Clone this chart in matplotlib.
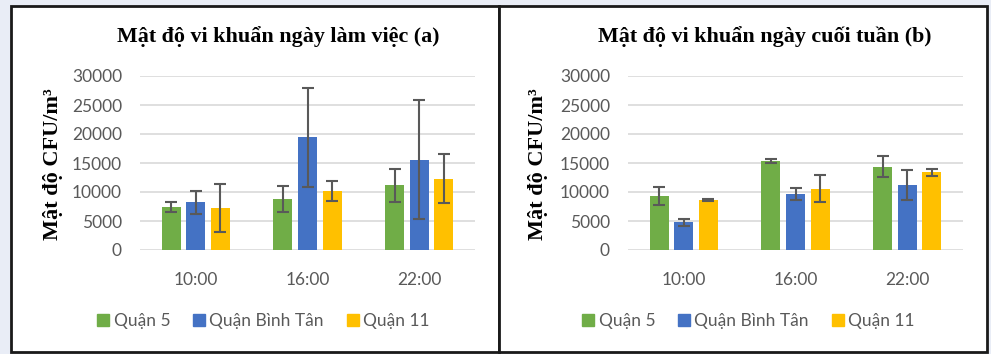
import numpy as np
import matplotlib
matplotlib.use('Agg')
import matplotlib.pyplot as plt
from matplotlib.patches import Rectangle
from matplotlib.lines import Line2D

# data
times = ['10:00', '16:00', '22:00']
districts = ['Quận 5', 'Quận Bình Tân', 'Quận 11']

weekday_q5 = [7400, 8800, 11150]
weekday_bt = [8200, 19400, 15600]
weekday_q11 = [7200, 10200, 12300]
weekday_q5_err = [800, 2200, 2850]
weekday_bt_err = [2000, 8500, 10300]
weekday_q11_err = [4150, 1700, 4200]

weekend_q5 = [9350, 15350, 14350]
weekend_bt = [4750, 9650, 11200]
weekend_q11 = [8650, 10600, 13400]
weekend_q5_err = [1550, 400, 1800]
weekend_bt_err = [570, 1060, 2580]
weekend_q11_err = [150, 2300, 600]

titles = ['Mật độ vi khuẩn ngày làm việc (a)', 'Mật độ vi khuẩn ngày cuối tuần (b)']
ylabel = 'Mật độ CFU/m³'
yticks = [0, 5000, 10000, 15000, 20000, 25000, 30000]

COLORS = ['#70AD47', '#4472C4', '#FFC000']
SERIF = ['Liberation Serif', 'DejaVu Serif']
SANS = ['Lato', 'Open Sans', 'DejaVu Sans']

W, H = 991, 354
fig = plt.figure(figsize=(W / 100, H / 100), dpi=100, facecolor='#e9edf6')


def fx(px):
    return px / W


def fy(py):
    return 1 - py / H


# white panels with dark frames
for x0, x1 in [(11, 499), (499, 987)]:
    fig.patches.append(Rectangle((fx(x0), fy(352)), fx(x1 - x0), (352 - 6) / H,
                                 transform=fig.transFigure, facecolor='white',
                                 edgecolor='#1a1a1a', linewidth=2, zorder=-5))

panels = [
    dict(left=140, title_x=278, ylab_x=53, leg_x=262,
         vals=[weekday_q5, weekday_bt, weekday_q11],
         errs=[weekday_q5_err, weekday_bt_err, weekday_q11_err]),
    dict(left=628, title_x=765, ylab_x=538, leg_x=747,
         vals=[weekend_q5, weekend_bt, weekend_q11],
         errs=[weekend_q5_err, weekend_bt_err, weekend_q11_err]),
]

x = np.arange(len(times))
bw = 0.17
step = 0.22

for p, title in zip(panels, titles):
    ax = fig.add_axes([fx(p['left']), fy(250), fx(335), 174 / H])
    ax.set_zorder(2)
    ax.set_facecolor('none')
    for k in range(3):
        ax.bar(x + (k - 1) * step, p['vals'][k], bw, color=COLORS[k], zorder=2,
               yerr=p['errs'][k], ecolor='#595959',
               error_kw=dict(elinewidth=1.5, capsize=4, capthick=1.5, zorder=3))
    ax.set_xlim(-0.5, 2.5)
    ax.set_ylim(0, 30000)
    ax.set_yticks(yticks)
    ax.set_xticks(x)
    ax.set_xticklabels(times)
    ax.grid(axis='y', color='#d9d9d9', linewidth=1.2, zorder=0)
    ax.set_axisbelow(True)
    for s in ax.spines.values():
        s.set_visible(False)
    ax.tick_params(length=0, labelsize=12.5, labelcolor='#595959')
    ax.tick_params(axis='y', pad=13)
    ax.tick_params(axis='x', pad=16)
    for lab in ax.get_xticklabels() + ax.get_yticklabels():
        lab.set_family(SANS)

    fig.text(fx(p['title_x']), fy(37), title, ha='center', va='center',
             fontsize=15.8, fontweight='bold', family=SERIF)
    fig.text(fx(p['ylab_x']), fy(164), ylabel, ha='center', va='center',
             rotation=90, fontsize=16, fontweight='bold', family=SERIF)

    handles = [Line2D([], [], marker='s', linestyle='none', markersize=9,
                      markerfacecolor=c, markeredgecolor=c) for c in COLORS]
    fig.legend(handles, districts, loc='center',
               bbox_to_anchor=(fx(p['leg_x']), fy(321)), ncol=3, frameon=False,
               prop={'family': SANS, 'size': 12.5}, labelcolor='#595959',
               handletextpad=0.1, columnspacing=1.15, handlelength=1.0)

fig.savefig('out.png', dpi=100, facecolor=fig.get_facecolor())
